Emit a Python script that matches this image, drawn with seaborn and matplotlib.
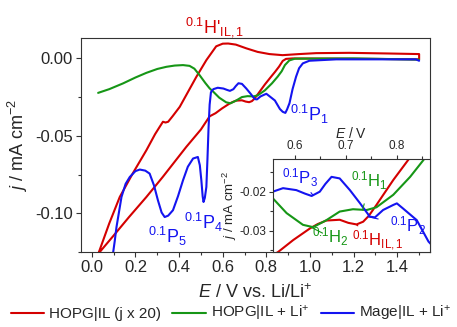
import numpy as np
import pandas as pd
import matplotlib
matplotlib.use("Agg")
import matplotlib.pyplot as plt
import seaborn as sns
from matplotlib.ticker import MultipleLocator, FormatStrFormatter

# ---------------- data ----------------
red_E = [0.030, 0.080, 0.128, 0.188, 0.250, 0.290, 0.311, 0.326, 0.338, 0.350, 0.370,
         0.403, 0.440, 0.479, 0.525, 0.570, 0.600, 0.625, 0.660, 0.708, 0.760, 0.814,
         0.874, 0.950, 1.028, 1.180, 1.350, 1.500,
         1.500, 1.300, 1.100, 0.920, 0.890, 0.875, 0.858, 0.840, 0.822, 0.793, 0.760,
         0.745, 0.734, 0.721, 0.705, 0.688, 0.662, 0.645, 0.630, 0.597, 0.567, 0.540,
         0.500, 0.433, 0.325, 0.250, 0.170, 0.096, 0.030]
red_j = [-0.1260, -0.1065, -0.0895, -0.0742, -0.0594, -0.0490, -0.0443, -0.0410, -0.0415,
         -0.0410, -0.0375, -0.0314, -0.0220, -0.0121, -0.0013, 0.0076, 0.0093, 0.0094,
         0.0087, 0.0063, 0.0040, 0.0026, 0.0019, 0.0026, 0.0032, 0.0034, 0.0030, 0.0026,
         -0.0008, -0.0005, -0.0003, -0.0002, -0.0005, -0.0018, -0.0055, -0.0088, -0.0119,
         -0.0170, -0.0234, -0.0262, -0.0277, -0.0284, -0.0280, -0.0272, -0.0274, -0.0283,
         -0.0294, -0.0324, -0.0355, -0.0375, -0.0460, -0.0572, -0.0766, -0.0895, -0.1025,
         -0.1150, -0.1260]

green_E = [0.029, 0.080, 0.143, 0.200, 0.250, 0.300, 0.342, 0.380, 0.418, 0.448, 0.470,
           0.494, 0.520, 0.540, 0.557, 0.584, 0.616, 0.636, 0.662, 0.688, 0.714, 0.741,
           0.760, 0.793, 0.826, 0.852, 0.870, 0.885, 0.905, 0.930, 1.200, 1.500]
green_j = [-0.0224, -0.0200, -0.0163, -0.0125, -0.0095, -0.0070, -0.0056, -0.0048, -0.0045,
           -0.0050, -0.0068, -0.0110, -0.0160, -0.0195, -0.0217, -0.0255, -0.0285, -0.0291,
           -0.0273, -0.0251, -0.0245, -0.0247, -0.0240, -0.0208, -0.0162, -0.0119, -0.0085,
           -0.0045, -0.0015, -0.0004, -0.0002, -0.0010]

blue_E = [0.097, 0.105, 0.113, 0.136, 0.155, 0.174, 0.200, 0.220, 0.245, 0.265, 0.285,
          0.303, 0.320, 0.334, 0.350, 0.372, 0.395, 0.418, 0.440, 0.464, 0.486, 0.495,
          0.502, 0.508, 0.512, 0.518, 0.525, 0.530, 0.535, 0.540, 0.546, 0.557, 0.577,
          0.603, 0.620, 0.633, 0.649, 0.660, 0.672, 0.688, 0.708, 0.728, 0.747, 0.757,
          0.773, 0.793, 0.800, 0.812, 0.839, 0.862, 0.875, 0.887, 0.895, 0.906, 0.920,
          0.936, 0.950, 0.967, 0.997, 1.120, 1.485, 1.500]
blue_j = [-0.1260, -0.1180, -0.1090, -0.0895, -0.0810, -0.0766, -0.0728, -0.0718, -0.0725,
          -0.0744, -0.0820, -0.0916, -0.0995, -0.1024, -0.1015, -0.0980, -0.0890, -0.0787,
          -0.0700, -0.0647, -0.0637, -0.0690, -0.0787, -0.0890, -0.0927, -0.0900, -0.0830,
          -0.0650, -0.0450, -0.0300, -0.0220, -0.0200, -0.0191, -0.0196, -0.0205, -0.0211,
          -0.0200, -0.0180, -0.0162, -0.0166, -0.0196, -0.0230, -0.0264, -0.0266, -0.0247,
          -0.0234, -0.0230, -0.0243, -0.0273, -0.0328, -0.0346, -0.0353, -0.0330, -0.0290,
          -0.0200, -0.0120, -0.0065, -0.0034, -0.0017, -0.0008, -0.0008, -0.0017]

series_names = ["HOPG|IL (j x 20)", "HOPG|IL + Li$^{+}$", "Mage|IL + Li$^{+}$"]
colors = ["#d40000", "#169616", "#1414f0"]

main_xticks = [0.0, 0.2, 0.4, 0.6, 0.8, 1.0, 1.2, 1.4]
main_yticks = [-0.10, -0.05, 0.00]
inset_xticks = [0.6, 0.7, 0.8]
inset_yticks = [-0.03, -0.02]

# ---------------- style ----------------
sns.set_theme(style="ticks")
plt.rcParams["font.family"] = ["Liberation Sans", "DejaVu Sans"]
plt.rcParams["mathtext.fontset"] = "custom"
plt.rcParams["mathtext.rm"] = "Liberation Sans"
plt.rcParams["mathtext.it"] = "Liberation Sans:italic"
plt.rcParams["mathtext.bf"] = "Liberation Sans:bold"
plt.rcParams["mathtext.sf"] = "Liberation Sans"
plt.rcParams["axes.unicode_minus"] = False

df = pd.concat([
    pd.DataFrame({"E": red_E, "j": red_j, "s": series_names[0]}),
    pd.DataFrame({"E": green_E, "j": green_j, "s": series_names[1]}),
    pd.DataFrame({"E": blue_E, "j": blue_j, "s": series_names[2]}),
], ignore_index=True)
palette = dict(zip(series_names, colors))

fig = plt.figure(figsize=(4.57, 3.27), dpi=100)
ax = fig.add_axes([0.177, 0.229, 0.764, 0.655])

def draw(a, lw):
    for name in series_names:
        sub = df[df["s"] == name]
        sns.lineplot(data=sub, x="E", y="j", sort=False, estimator=None,
                     color=palette[name], lw=lw, ax=a, label=name)

draw(ax, 1.5)
ax.set_xlim(-0.05, 1.55)
ax.set_ylim(-0.125, 0.013)
ax.set_xticks(main_xticks)
ax.set_yticks(main_yticks)
ax.xaxis.set_major_formatter(FormatStrFormatter("%.1f"))
ax.yaxis.set_major_formatter(FormatStrFormatter("%.2f"))
ax.xaxis.set_minor_locator(MultipleLocator(0.1))
ax.yaxis.set_minor_locator(MultipleLocator(0.025))
ax.tick_params(which="both", direction="out", top=False, right=False, labelsize=12,
               width=0.8, color="#333333")
ax.tick_params(which="major", length=3.6, pad=2)
ax.tick_params(which="minor", length=2.2)
for sp in ax.spines.values():
    sp.set_linewidth(0.8)
    sp.set_color("#333333")
ax.set_xlabel("$E$ / V vs. Li/Li$^{+}$", fontsize=13, labelpad=6)
ax.set_ylabel("$j$ / mA cm$^{-2}$", fontsize=13, labelpad=4)

handles, labels = ax.get_legend_handles_labels()
ax.get_legend().remove()
fig.legend(handles, labels, loc="center", bbox_to_anchor=(0.505, 0.04), ncol=3,
           frameon=False, fontsize=11, handlelength=2.2, handletextpad=0.3,
           columnspacing=0.75)

# main annotations
ax.text(0.563, 0.020, "$^{0.1}$H'$_{\\mathrm{IL,1}}$", color=colors[0], fontsize=13,
        ha="center", va="center", clip_on=False)
ax.text(0.997, -0.0361, "$^{0.1}$P$_{1}$", color=colors[2], fontsize=13, ha="center", va="center")
ax.text(0.348, -0.115, "$^{0.1}$P$_{5}$", color=colors[2], fontsize=13, ha="center", va="center")
ax.text(0.512, -0.106, "$^{0.1}$P$_{4}$", color=colors[2], fontsize=13, ha="center", va="center")

# ---------------- inset ----------------
ins = fig.add_axes([0.597, 0.229, 0.344, 0.285])
ins.set_facecolor("white")
draw(ins, 1.5)
ins.get_legend().remove()
ins.set_xlim(0.557, 0.865)
ins.set_ylim(-0.0355, -0.0116)
ins.set_xticks(inset_xticks)
ins.set_yticks(inset_yticks)
ins.xaxis.set_major_formatter(FormatStrFormatter("%.1f"))
ins.yaxis.set_major_formatter(FormatStrFormatter("%.2f"))
ins.xaxis.set_minor_locator(MultipleLocator(0.05))
ins.yaxis.set_minor_locator(MultipleLocator(0.005))
ins.xaxis.tick_top()
ins.xaxis.set_label_position("top")
ins.tick_params(which="both", direction="out", labelsize=8.5, width=0.8, color="#333333",
                bottom=False, right=False)
ins.tick_params(which="major", length=3.2, pad=1.5)
ins.tick_params(which="minor", length=2.0)
for sp in ins.spines.values():
    sp.set_linewidth(0.8)
    sp.set_color("#333333")
ins.set_xlabel("$E$ / V", fontsize=10, labelpad=2)
ins.set_ylabel("$j$ / mA cm$^{-2}$", fontsize=9.5, labelpad=0.5)

def lab(a, text, xy, xytext, color):
    a.annotate(text, xy=xy, xytext=xytext, color=color, fontsize=12,
               ha="center", va="center",
               arrowprops=dict(arrowstyle="-", color=color, lw=0.8, shrinkA=6, shrinkB=0))

lab(ins, "$^{0.1}$P$_{3}$", (0.635, -0.0208), (0.610, -0.0165), colors[2])
lab(ins, "$^{0.1}$H$_{1}$", (0.733, -0.0247), (0.747, -0.0173), colors[1])
lab(ins, "$^{0.1}$P$_{2}$", (0.743, -0.0264), (0.821, -0.0287), colors[2])
lab(ins, "$^{0.1}$H$_{\\mathrm{IL,1}}$", (0.721, -0.0285), (0.763, -0.0327), colors[0])
lab(ins, "$^{0.1}$H$_{2}$", (0.630, -0.0290), (0.669, -0.0316), colors[1])

fig.savefig("out.png", dpi=100)
